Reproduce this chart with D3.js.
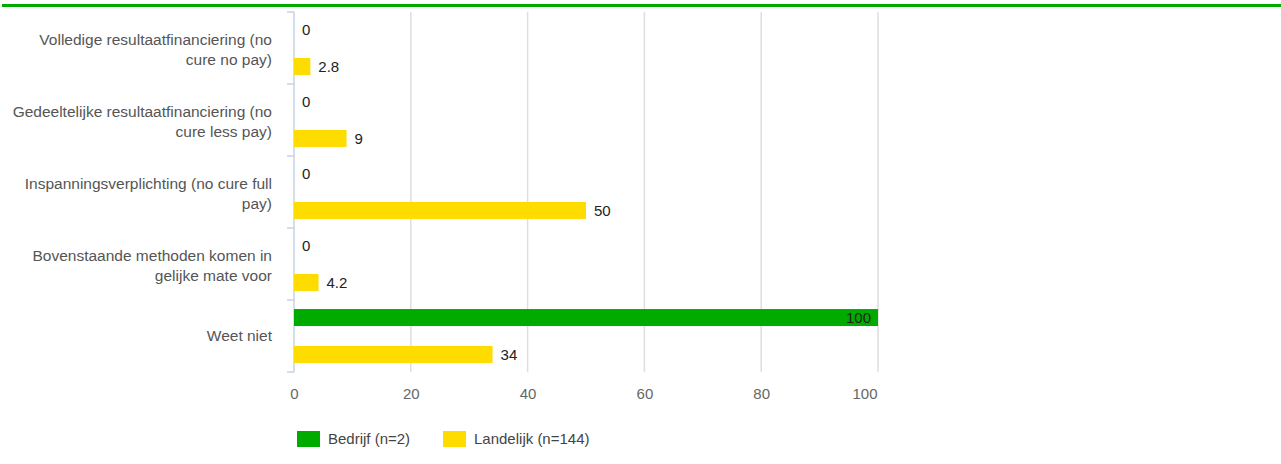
<!DOCTYPE html>
<meta charset="utf-8">
<style>
body {
  margin: 0;
  background: #fff;
  font-family: "Liberation Sans", Arial, sans-serif;
}
.cat {
  fill: #555;
  font-size: 15.5px;
}
.tick text {
  fill: #666;
  font-size: 15px;
}
.val {
  fill: #222;
  font-size: 15px;
}
.legend text {
  fill: #444;
  font-size: 15px;
}
</style>
<body>
<script src="https://cdn.jsdelivr.net/npm/d3@7"></script>
<script>

var width = 1281,
    height = 464;

// chart values
var categories = [
  ["Volledige resultaatfinanciering (no", "cure no pay)"],
  ["Gedeeltelijke resultaatfinanciering (no", "cure less pay)"],
  ["Inspanningsverplichting (no cure full", "pay)"],
  ["Bovenstaande methoden komen in", "gelijke mate voor"],
  ["Weet niet"]
];
var bedrijf = [0, 0, 0, 0, 100];
var landelijk = [2.8, 9, 50, 4.2, 34];
var seriesNames = ["Bedrijf (n=2)", "Landelijk (n=144)"];
var seriesColors = ["#00ab00", "#ffdc00"];
var xTicks = [0, 20, 40, 60, 80, 100];

var margin = {top: 12, left: 294};
var plotW = 584, plotH = 360;

var svg = d3.select("body").append("svg")
    .attr("width", width)
    .attr("height", height);

// green line at the top
svg.append("rect")
    .attr("x", 2).attr("y", 4)
    .attr("width", width - 2).attr("height", 3)
    .style("fill", "#00ab00");

var g = svg.append("g")
    .attr("transform", "translate(" + margin.left + "," + margin.top + ")");

var x = d3.scaleLinear().domain([0, 100]).range([0, plotW]);
var y = d3.scaleBand().domain(d3.range(categories.length)).range([0, plotH]);
var sub = d3.scaleBand().domain([0, 1]).range([0, y.bandwidth()])
    .paddingInner(0.54).paddingOuter(0.245);

// grid
g.selectAll(".grid")
  .data(xTicks.slice(1))
  .enter().append("line")
    .attr("class", "grid")
    .attr("x1", function(d) { return x(d); })
    .attr("x2", function(d) { return x(d); })
    .attr("y1", 0)
    .attr("y2", plotH)
    .style("stroke", "#dedede")
    .style("stroke-width", 1.5);

// x axis labels
var xAxis = d3.axisBottom(x).tickValues(xTicks).tickSize(0).tickPadding(0);
g.append("g")
    .attr("transform", "translate(0," + (plotH + 16) + ")")
    .call(xAxis)
    .call(function(s) { s.select(".domain").remove(); })
    .selectAll("text")
      .attr("dy", "0.71em")
      .attr("x", function(d) { return d === 100 ? -1 : 0; })
      .attr("text-anchor", function(d) { return d === 100 ? "end" : "middle"; });

// left axis with bracket ticks
var axisCol = "#c6d3e3";
g.append("line")
    .attr("x1", 0).attr("x2", 0)
    .attr("y1", 0).attr("y2", plotH)
    .style("stroke", axisCol).style("stroke-width", 1.5);
g.selectAll(".ytick")
  .data(d3.range(categories.length + 1))
  .enter().append("line")
    .attr("x1", -7).attr("x2", 0)
    .attr("y1", function(d) { return d * y.step(); })
    .attr("y2", function(d) { return d * y.step(); })
    .style("stroke", axisCol).style("stroke-width", 1.5);

// category labels
var cat = g.selectAll(".cat")
  .data(categories)
  .enter().append("text")
    .attr("class", "cat")
    .attr("text-anchor", "end")
    .attr("transform", function(d, i) {
      var cy = y(i) + y.bandwidth() / 2 + (d.length > 1 ? 2 : 0);
      return "translate(-22," + cy + ")";
    });
cat.selectAll("tspan")
  .data(function(d) { return d.map(function(t, k) { return {t: t, k: k, n: d.length}; }); })
  .enter().append("tspan")
    .attr("x", 0)
    .attr("y", function(d) { return (d.k - (d.n - 1) / 2) * 20; })
    .attr("dy", "0.35em")
    .text(function(d) { return d.t; });

// bars
var series = [bedrijf, landelijk];
series.forEach(function(vals, s) {
  var grp = g.append("g");
  grp.selectAll("rect")
    .data(vals)
    .enter().append("rect")
      .attr("x", 0)
      .attr("y", function(d, i) { return y(i) + sub(s); })
      .attr("width", function(d) { return x(d); })
      .attr("height", sub.bandwidth())
      .style("fill", seriesColors[s])
      .style("display", function(d) { return d > 0 ? null : "none"; });

  grp.selectAll("text")
    .data(vals)
    .enter().append("text")
      .attr("class", "val")
      .attr("x", function(d) { return d >= 100 ? x(d) - 7 : x(d) + 8; })
      .attr("y", function(d, i) { return y(i) + sub(s) + sub.bandwidth() / 2; })
      .attr("dy", "0.35em")
      .attr("text-anchor", function(d) { return d >= 100 ? "end" : "start"; })
      .text(function(d) { return d; });
});

// legend
var legend = svg.append("g")
    .attr("class", "legend")
    .attr("transform", "translate(297,431)");
var lx = [0, 146];
var item = legend.selectAll("g")
  .data(seriesNames)
  .enter().append("g")
    .attr("transform", function(d, i) { return "translate(" + lx[i] + ",0)"; });
item.append("rect")
    .attr("width", 23).attr("height", 16)
    .style("fill", function(d, i) { return seriesColors[i]; });
item.append("text")
    .attr("x", 31).attr("y", 8)
    .attr("dy", "0.35em")
    .text(function(d) { return d; });

</script>
